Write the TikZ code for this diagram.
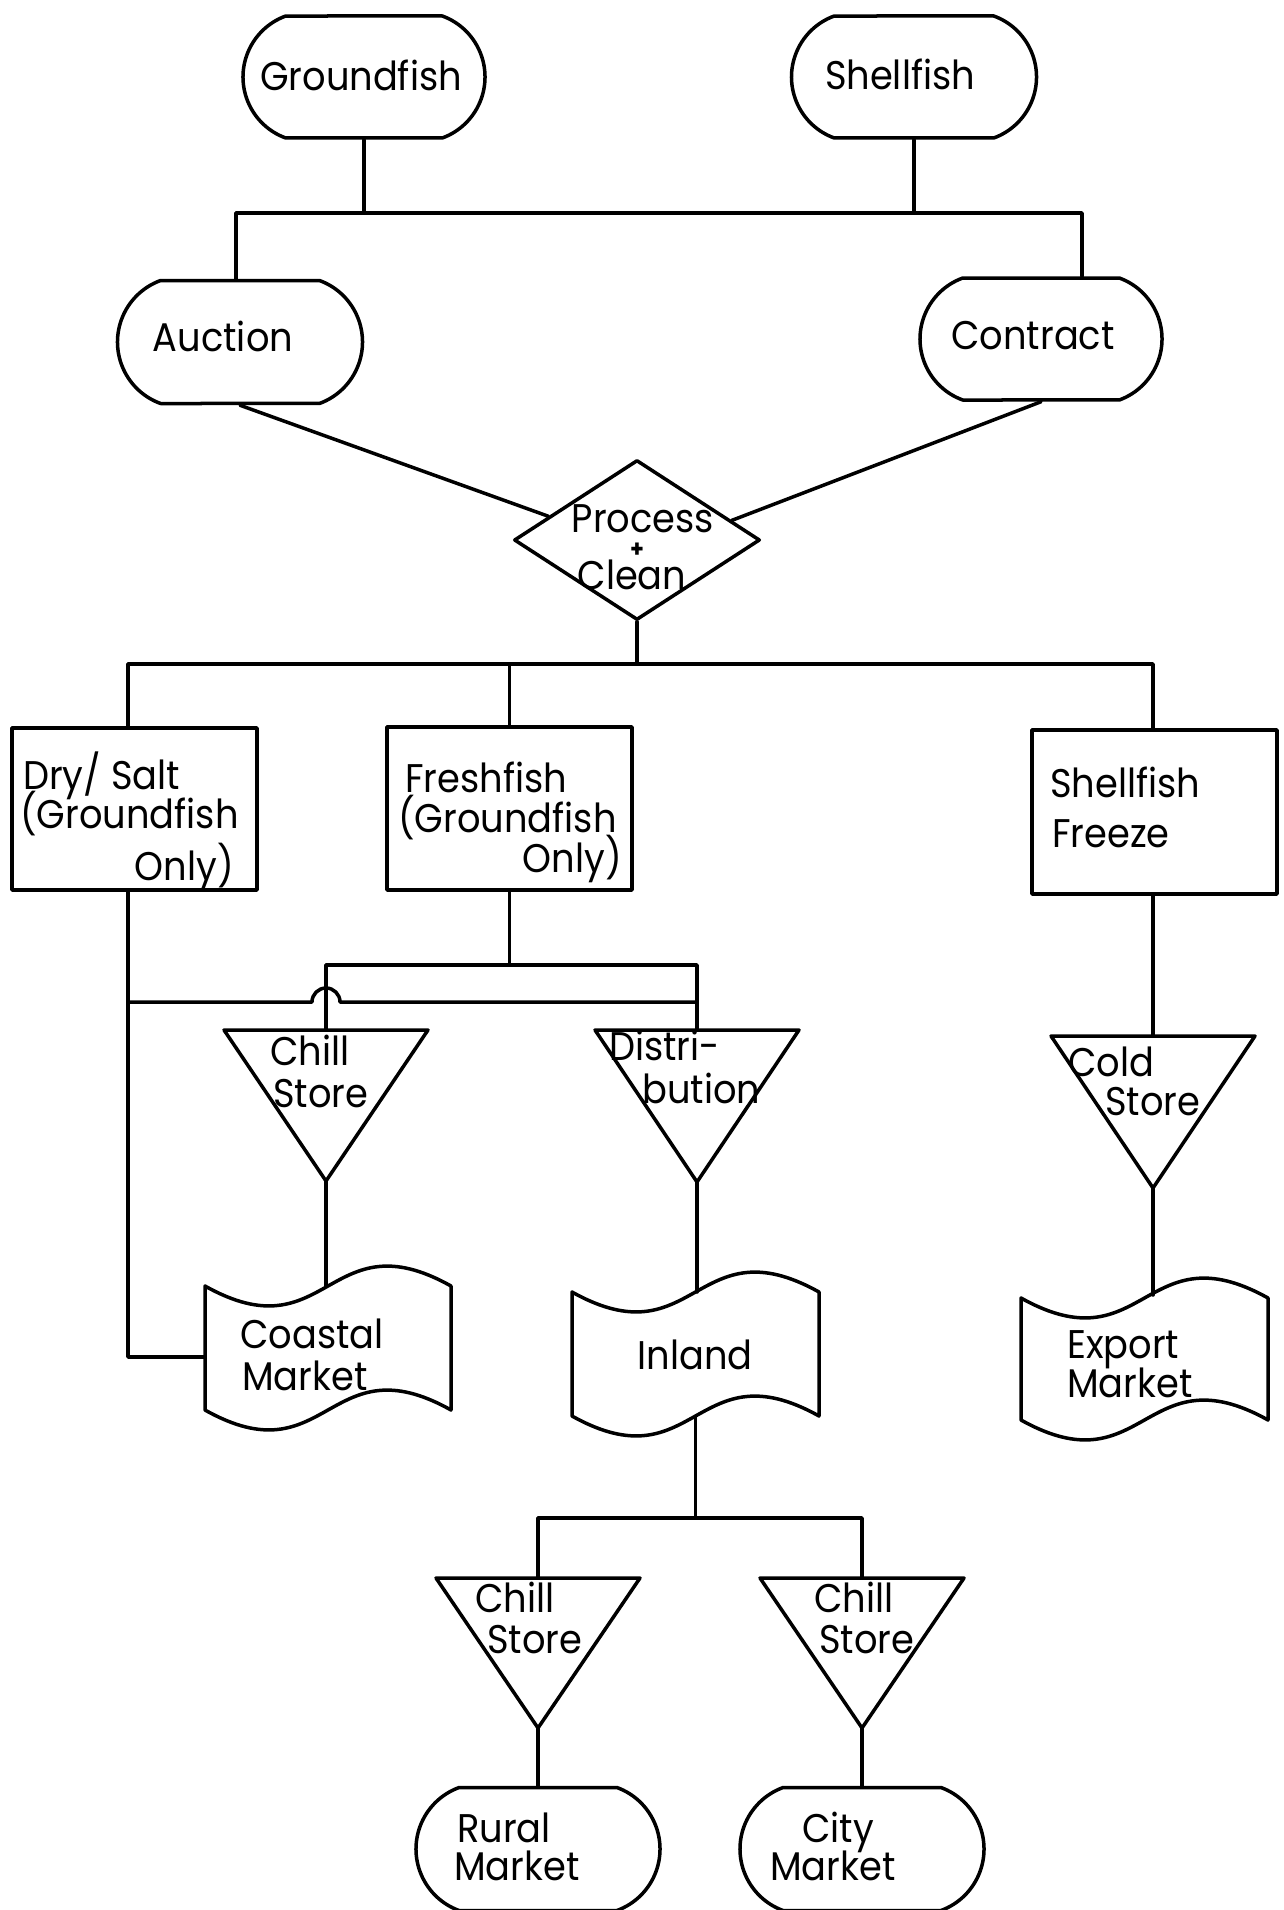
\documentclass[tikz,border=0pt]{standalone}
\usepackage{fontspec}
\setmainfont{Poppins}[FakeStretch=0.92]
\usetikzlibrary{shapes.geometric,shapes.misc,calc}

\tikzset{
  ln/.style={line width=3.5pt, line join=round, line cap=round},
  term/.style={ln, draw, rounded rectangle, rounded rectangle arc length=140, inner sep=0pt},
  box/.style={ln, draw, rectangle, inner sep=0pt},
  lbl/.style={font=\fontsize{40}{40}\selectfont, inner sep=0pt},
}

% triangle (store): name, centre x, top y, apex y
\newcommand\mytri[4]{%
  \draw[ln] ({#2-102},#3) -- ({#2+102},#3) -- (#2,#4) -- cycle;
  \coordinate (#1-t) at (#2,#3);
  \coordinate (#1-b) at (#2,#4);}

% wavy document: name, x0, y0, w, h
\newcommand\mydoc[5]{%
  \draw[ln] (#2,#3) .. controls ({#2+#4/2},{#3+69}) and ({#2+#4/2},{#3-69}) .. ({#2+#4},#3)
    -- ({#2+#4},{#3+#5}) .. controls ({#2+#4/2},{#3+#5-69}) and ({#2+#4/2},{#3+#5+69}) .. (#2,{#3+#5}) -- cycle;
  \coordinate (#1-t) at ({#2+#4/2},#3);
  \coordinate (#1-b) at ({#2+#4/2},{#3+#5});
  \coordinate (#1-w) at (#2,{#3+#5/2});}

\begin{document}
\begin{tikzpicture}[x=1pt,y=-1pt]
\path[fill=white] (0,0) rectangle (1283,1910);
\useasboundingbox (0,0) rectangle (1283,1910);

% ---- shapes ----
\node[term, minimum width=242pt, minimum height=122pt] (gf) at (364,77) {};
\node[term, minimum width=245pt, minimum height=122pt] (sf) at (914,77) {};
\node[term, minimum width=245pt, minimum height=123pt] (auc) at (240,342) {};
\node[term, minimum width=242pt, minimum height=122pt] (con) at (1041,339) {};
\node[ln, draw, diamond, minimum width=246pt, minimum height=160pt, inner sep=0pt] (dia) at (637,540) {};
\node[box, minimum width=245pt, minimum height=162pt] (dry) at (134.5,809) {};
\node[box, minimum width=245pt, minimum height=163pt] (fresh) at (509.5,808.5) {};
\node[box, minimum width=245pt, minimum height=164pt] (sff) at (1154.5,812) {};

\mytri{cs1}{326}{1030}{1181}
\mytri{dist}{697}{1030}{1182}
\mytri{cold}{1153}{1036}{1188}
\mytri{cs2}{538}{1578}{1728}
\mytri{cs3}{862}{1578}{1728}

\mydoc{coastal}{205}{1286}{246}{124}
\mydoc{inland}{572}{1292}{247}{124}
\mydoc{export}{1021}{1298}{247}{122}

\node[term, minimum width=244pt, minimum height=123pt] (rural) at (538,1849) {};
\node[term, minimum width=244pt, minimum height=123pt] (city) at (862,1849) {};

% ---- connectors ----
\coordinate (busL) at (236,213);
\coordinate (busR) at (1082,213);
\draw[ln] (gf.south) -- (gf.south |- busL);
\draw[ln] (sf.south) -- (sf.south |- busL);
\draw[ln] (busL |- auc.north) -- (busL) -- (busR) -- (busR |- con.north);
\draw[ln] (auc.south) -- ($(dia.west)!0.29!(dia.north)$);
\draw[ln] (con.south) -- ($(dia.east)!0.24!(dia.north)$);

\coordinate (m1) at (128,664);
\coordinate (m2) at (1153,664);
\draw[ln] (dia.south) -- (dia.south |- m1);
\draw[ln] (m1 |- dry.north) -- (m1) -- (m2) -- (m2 |- sff.north);
\draw[ln] (fresh.north) -- (fresh.north |- m1);

\coordinate (dl) at (128,1357);
\draw[ln] (m1 |- dry.south) -- (dl) -- (dl -| coastal-w);

\coordinate (u1) at (326,965);
\coordinate (u2) at (697,965);
\draw[ln] (fresh.south) -- (fresh.south |- u1);
\draw[ln] (cs1-t) -- (u1) -- (u2) -- (dist-t);

\coordinate (l1) at (128,1002);
\draw[ln] (l1) -- ($(l1 -| u1)+(-14,0)$) arc[start angle=180, end angle=360, radius=14] -- (l1 -| u2);

\draw[ln] (cs1-b) -- (cs1-b |- coastal-t);
\draw[ln] (dist-b) -- (dist-b |- inland-t);
\draw[ln] (sff.south -| cold-t) -- (cold-t);
\draw[ln] (cold-b) -- ($(cold-b |- export-t)+(0,-3)$);

\coordinate (n1) at (538,1518);
\coordinate (n2) at (862,1518);
\draw[ln] (inland-b) -- (inland-b |- n1);
\draw[ln] (cs2-t) -- (n1) -- (n2) -- (cs3-t);
\draw[ln] (cs2-b) -- (rural.north);
\draw[ln] (cs3-b) -- (city.north);

% ---- labels ----
\node[lbl, anchor=base] (gft) at (361,91) {Groundfish};
\node[lbl, anchor=base] (sft) at (900,90) {Shellfish};
\node[lbl, anchor=base] (auct) at (223,351) {Auction};
\node[lbl, anchor=base] (cont) at (1033,349) {Contract};

\node[lbl, anchor=base] (dia1) at (643,532) {Process};
\node[inner sep=0pt, font=\fontsize{24}{24}\selectfont\bfseries] (dia2) at (637,550) {+};
\node[lbl, anchor=base] (dia3) at (632,589) {Clean};

\node[lbl, anchor=base west] (dry1) at (23,789) {Dry/ Salt};
\node[lbl, anchor=base west] (dry2) at (20,828) {(Groundfish};
\node[lbl, anchor=base east] (dry3) at (234,880) {Only)};

\node[lbl, anchor=base west] (fr1) at (405,792) {Freshfish};
\node[lbl, anchor=base west] (fr2) at (398,832) {(Groundfish};
\node[lbl, anchor=base east] (fr3) at (622,872) {Only)};

\node[lbl, anchor=base west] (sff1) at (1050,797) {Shellfish};
\node[lbl, anchor=base west] (sff2) at (1052,847) {Freeze};

\node[lbl, anchor=base west] (cs1a) at (270,1065) {Chill};
\node[lbl, anchor=base west] (cs1c) at (273,1107) {Store};
\node[lbl, anchor=base west] (dista) at (609,1060) {Distri-};
\node[lbl, anchor=base west] (distc) at (642,1103) {bution};
\node[lbl, anchor=base west] (colda) at (1068,1076) {Cold};
\node[lbl, anchor=base west] (coldc) at (1105,1115) {Store};

\node[lbl, anchor=base west] (coa1) at (240,1348) {Coastal};
\node[lbl, anchor=base west] (coa2) at (242,1390) {Market};
\node[lbl, anchor=base] (inl) at (695,1369) {Inland};
\node[lbl, anchor=base west] (exp1) at (1067,1358) {Export};
\node[lbl, anchor=base west] (exp2) at (1067,1397) {Market};

\node[lbl, anchor=base west] (cs2a) at (475,1612) {Chill};
\node[lbl, anchor=base west] (cs2c) at (487,1653) {Store};
\node[lbl, anchor=base west] (cs3a) at (814,1612) {Chill};
\node[lbl, anchor=base west] (cs3c) at (819,1653) {Store};

\node[lbl, anchor=base west] (rur1) at (457,1842) {Rural};
\node[lbl, anchor=base west] (rur2) at (454,1880) {Market};
\node[lbl, anchor=base west] (cit1) at (802,1842) {City};
\node[lbl, anchor=base west] (cit2) at (770,1880) {Market};
\end{tikzpicture}
\end{document}
